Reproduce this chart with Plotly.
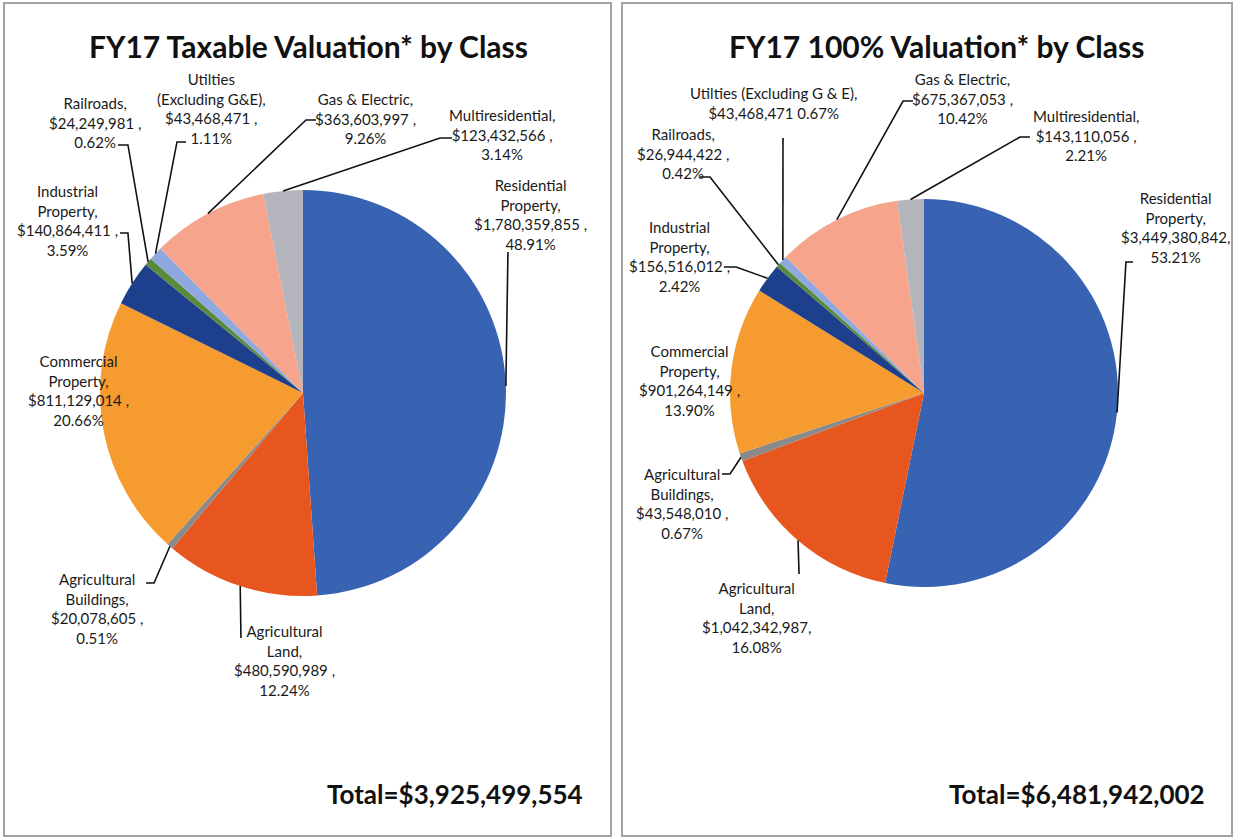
import math
import plotly.graph_objects as go

# ---- data -------------------------------------------------------------
classes = ["Residential Property", "Agricultural Land", "Agricultural Buildings",
           "Commercial Property", "Industrial Property", "Railroads",
           "Utilities (Excluding G&E)", "Gas & Electric", "Multiresidential"]

taxable_values = [1780359855, 480590989, 20078605, 811129014, 140864411,
                  24249981, 43468471, 363603997, 123432566]
taxable_pct = [48.91, 12.24, 0.51, 20.66, 3.59, 0.62, 1.11, 9.26, 3.14]

full_values = [3449380842, 1042342987, 43548010, 901264149, 156516012,
               26944422, 43468471, 675367053, 143110056]
full_pct = [53.21, 16.08, 0.67, 13.90, 2.42, 0.42, 0.67, 10.42, 2.21]

taxable_total = 3925499554
full_total = 6481942002

colors = ["#3763B2", "#E8561F", "#8A8A8A", "#F59B2F", "#1E3F8C",
          "#5A8A3C", "#8FA9E0", "#F6A48C", "#B4B4BC"]

# label wording per chart ({v} = dollar value, {p} = percent)
taxable_labels = [
    "Residential<br>Property,<br>{v} ,<br>{p}",
    "Agricultural<br>Land,<br>{v} ,<br>{p}",
    "Agricultural<br>Buildings,<br>{v} ,<br>{p}",
    "Commercial<br>Property,<br>{v} ,<br>{p}",
    "Industrial<br>Property,<br>{v} ,<br>{p}",
    "Railroads,<br>{v} ,<br>{p}",
    "Utilties<br>(Excluding G&amp;E),<br>{v} ,<br>{p}",
    "Gas &amp; Electric,<br>{v} ,<br>{p}",
    "Multiresidential,<br>{v} ,<br>{p}",
]
full_labels = [
    "Residential<br>Property,<br>{v},<br>{p}",
    "Agricultural<br>Land,<br>{v},<br>{p}",
    "Agricultural<br>Buildings,<br>{v} ,<br>{p}",
    "Commercial<br>Property,<br>{v} ,<br>{p}",
    "Industrial<br>Property,<br>{v} ,<br>{p}",
    "Railroads,<br>{v} ,<br>{p}",
    "Utilties (Excluding G &amp; E),<br>{v} {p}",
    "Gas &amp; Electric,<br>{v} ,<br>{p}",
    "Multiresidential,<br>{v} ,<br>{p}",
]

# ---- layout helpers (pixel positions on a 1235 x 839 canvas) -----------
W, H = 1235, 839
FONT = "Lato, 'Open Sans', Arial, sans-serif"


def px(x):
    return x / W


def py(y):
    return 1 - y / H


panels = [
    dict(title="FY17 Taxable Valuation* by Class", title_x=308,
         total=taxable_total, total_x=585,
         box=(4, 3, 611, 836), cx=303, cy=393, r=203,
         pct=taxable_pct, values=taxable_values, labels=taxable_labels,
         # label centres and leader elbows, in slice order
         label_pos=[(530, 214), (284, 660), (97, 608), (78, 390), (67, 220),
                    (95, 122), (211, 108), (365, 118), (502, 134)],
         leaders=[[(508, 252)], [(241, 638)], [(146, 583), (154, 583)], None,
                  [(120, 233), (128, 233)], [(118, 145), (128, 145)],
                  [(186, 142), (177, 142)], [(316, 120), (306, 120)],
                  [(452, 138), (440, 138)]]),
    dict(title="FY17 100% Valuation* by Class", title_x=936,
         total=full_total, total_x=1207,
         box=(622, 3, 1232, 836), cx=924, cy=393, r=194,
         pct=full_pct, values=full_values, labels=full_labels,
         label_pos=[(1175, 227), (756, 617), (682, 503), (689, 380), (679, 256),
                    (683, 154), (773, 103), (962, 98), (1086, 135)],
         leaders=[[(1133, 262), (1126, 262)], [(799, 574)], [(722, 474), (730, 474)],
                  None, [(724, 267), (736, 267)], [(700, 177), (710, 177)],
                  [(783, 138)], [(913, 101), (903, 101)], [(1030, 137), (1020, 137)]]),
]

fig = go.Figure()
shapes = []
annotations = []

for p in panels:
    cx, cy, r = p["cx"], p["cy"], p["r"]
    fig.add_trace(go.Pie(
        labels=classes, values=p["pct"], sort=False, direction="clockwise",
        rotation=0, textinfo="none", hoverinfo="label+percent",
        marker=dict(colors=colors, line=dict(width=0)),
        domain=dict(x=[px(cx - r), px(cx + r)], y=[py(cy + r), py(cy - r)]),
        showlegend=False,
    ))

    # panel frame
    x0, y0, x1, y1 = p["box"]
    shapes.append(dict(type="rect", xref="paper", yref="paper",
                       x0=px(x0), x1=px(x1), y0=py(y1), y1=py(y0),
                       line=dict(color="#A3A3A3", width=2), layer="below"))

    annotations.append(dict(text="<b>%s</b>" % p["title"], x=px(p["title_x"]), y=py(46),
                            xref="paper", yref="paper", showarrow=False,
                            xanchor="center", yanchor="middle",
                            font=dict(family=FONT, size=30, color="#111111")))
    annotations.append(dict(text="<b>Total=${:,}</b>".format(p["total"]),
                            x=px(p["total_x"]), y=py(794), xref="paper", yref="paper",
                            showarrow=False, xanchor="right", yanchor="middle",
                            font=dict(family=FONT, size=26, color="#111111")))

    total_pct = sum(p["pct"])
    cum = 0.0
    for i, val in enumerate(p["pct"]):
        mid = (cum + val / 2) / total_pct
        cum += val
        ang = 2 * math.pi * mid
        ex, ey = cx + r * math.sin(ang), cy - r * math.cos(ang)

        txt = p["labels"][i].format(v="${:,}".format(p["values"][i]),
                                    p="{:.2f}%".format(p["pct"][i]))
        lx, ly = p["label_pos"][i]
        annotations.append(dict(text=txt, x=px(lx), y=py(ly), xref="paper", yref="paper",
                                showarrow=False, xanchor="center", yanchor="middle",
                                align="center",
                                font=dict(family=FONT, size=15, color="#1A1A1A")))

        pts = p["leaders"][i]
        if pts:
            path_pts = pts + [(ex, ey)]
            d = "M " + " L ".join("%.4f,%.4f" % (px(a), py(b)) for a, b in path_pts)
            shapes.append(dict(type="path", xref="paper", yref="paper", path=d,
                               line=dict(color="#111111", width=1.6)))

fig.update_layout(
    width=W, height=H, margin=dict(l=0, r=0, t=0, b=0),
    paper_bgcolor="white", plot_bgcolor="white",
    shapes=shapes, annotations=annotations,
)

fig.write_html("out.html")
